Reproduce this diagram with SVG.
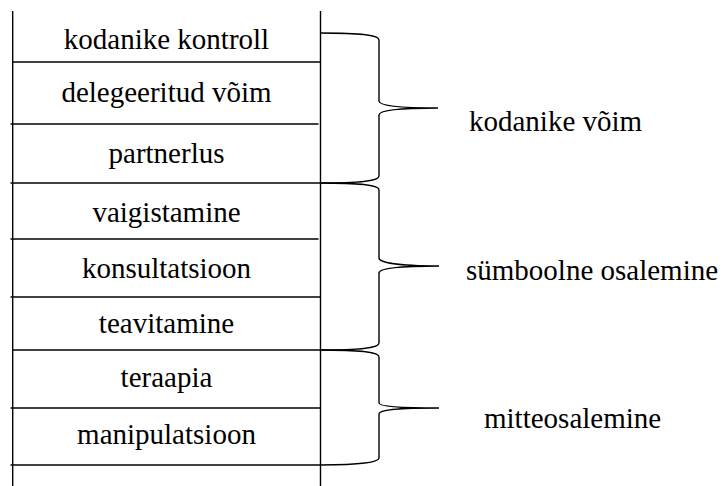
<svg xmlns="http://www.w3.org/2000/svg" width="723" height="486" viewBox="0 0 723 486">
<style>
.ln{stroke:#000;stroke-width:1.4;fill:none}
.br{stroke:#000;stroke-width:1.4;fill:none}
text{font-family:'Liberation Serif','Tinos','DejaVu Serif',serif;font-size:29px;fill:#000}
.c{text-anchor:middle}
</style>
<rect width="723" height="486" fill="#fff"/>
<g id="frame">
<line class="ln" x1="12.7" y1="11" x2="12.7" y2="486"/>
<line class="ln" x1="320.5" y1="11" x2="320.5" y2="486"/>
<line class="ln" x1="12" y1="62" x2="320.5" y2="62"/>
<line class="ln" x1="10.5" y1="124" x2="318.5" y2="124"/>
<line class="ln" x1="10.5" y1="183" x2="320.5" y2="183"/>
<line class="ln" x1="10.5" y1="239" x2="318.5" y2="239"/>
<line class="ln" x1="10.5" y1="297" x2="320.5" y2="297"/>
<line class="ln" x1="12" y1="350" x2="320.5" y2="350"/>
<line class="ln" x1="10.5" y1="408" x2="320.5" y2="408"/>
<line class="ln" x1="10.5" y1="465" x2="320.5" y2="465"/>
</g>
<g id="n1"><text class="c" x="166.5" y="48.5">kodanike kontroll</text></g>
<g id="n2"><text class="c" x="166.5" y="102">delegeeritud võim</text></g>
<g id="n3"><text class="c" x="166.5" y="163">partnerlus</text></g>
<g id="n4"><text class="c" x="166.5" y="222">vaigistamine</text></g>
<g id="n5"><text class="c" x="166.5" y="278">konsultatsioon</text></g>
<g id="n6"><text class="c" x="166.5" y="332.5">teavitamine</text></g>
<g id="n7"><text class="c" x="166.5" y="387">teraapia</text></g>
<g id="n8"><text class="c" x="166.5" y="443.5">manipulatsioon</text></g>
<g id="connectors">
<path class="br" d="M320.5,33 C362,33 379,35 379,40 L379,101 C379,105 395,108 438,108 C395,108 379,111 379,115 L379,176 C379,181 362,183 320.5,183"/>
<path class="br" d="M320.5,183 C362,183 379,185 379,190 L379,258 C379,262 395,266 439,266 C395,266 379,269 379,273 L379,343 C379,348 362,350 320.5,350"/>
<path class="br" d="M320.5,350 C362,350 379,352 379,357 L379,403 C379,406 395,408 439,408 C395,408 379,410 379,414 L379,458 C379,462 362,465 320.5,465"/>
</g>
<g id="g1"><text x="469" y="130.5">kodanike võim</text></g>
<g id="g2"><text x="466" y="280">sümboolne osalemine</text></g>
<g id="g3"><text x="484" y="428">mitteosalemine</text></g>
</svg>
